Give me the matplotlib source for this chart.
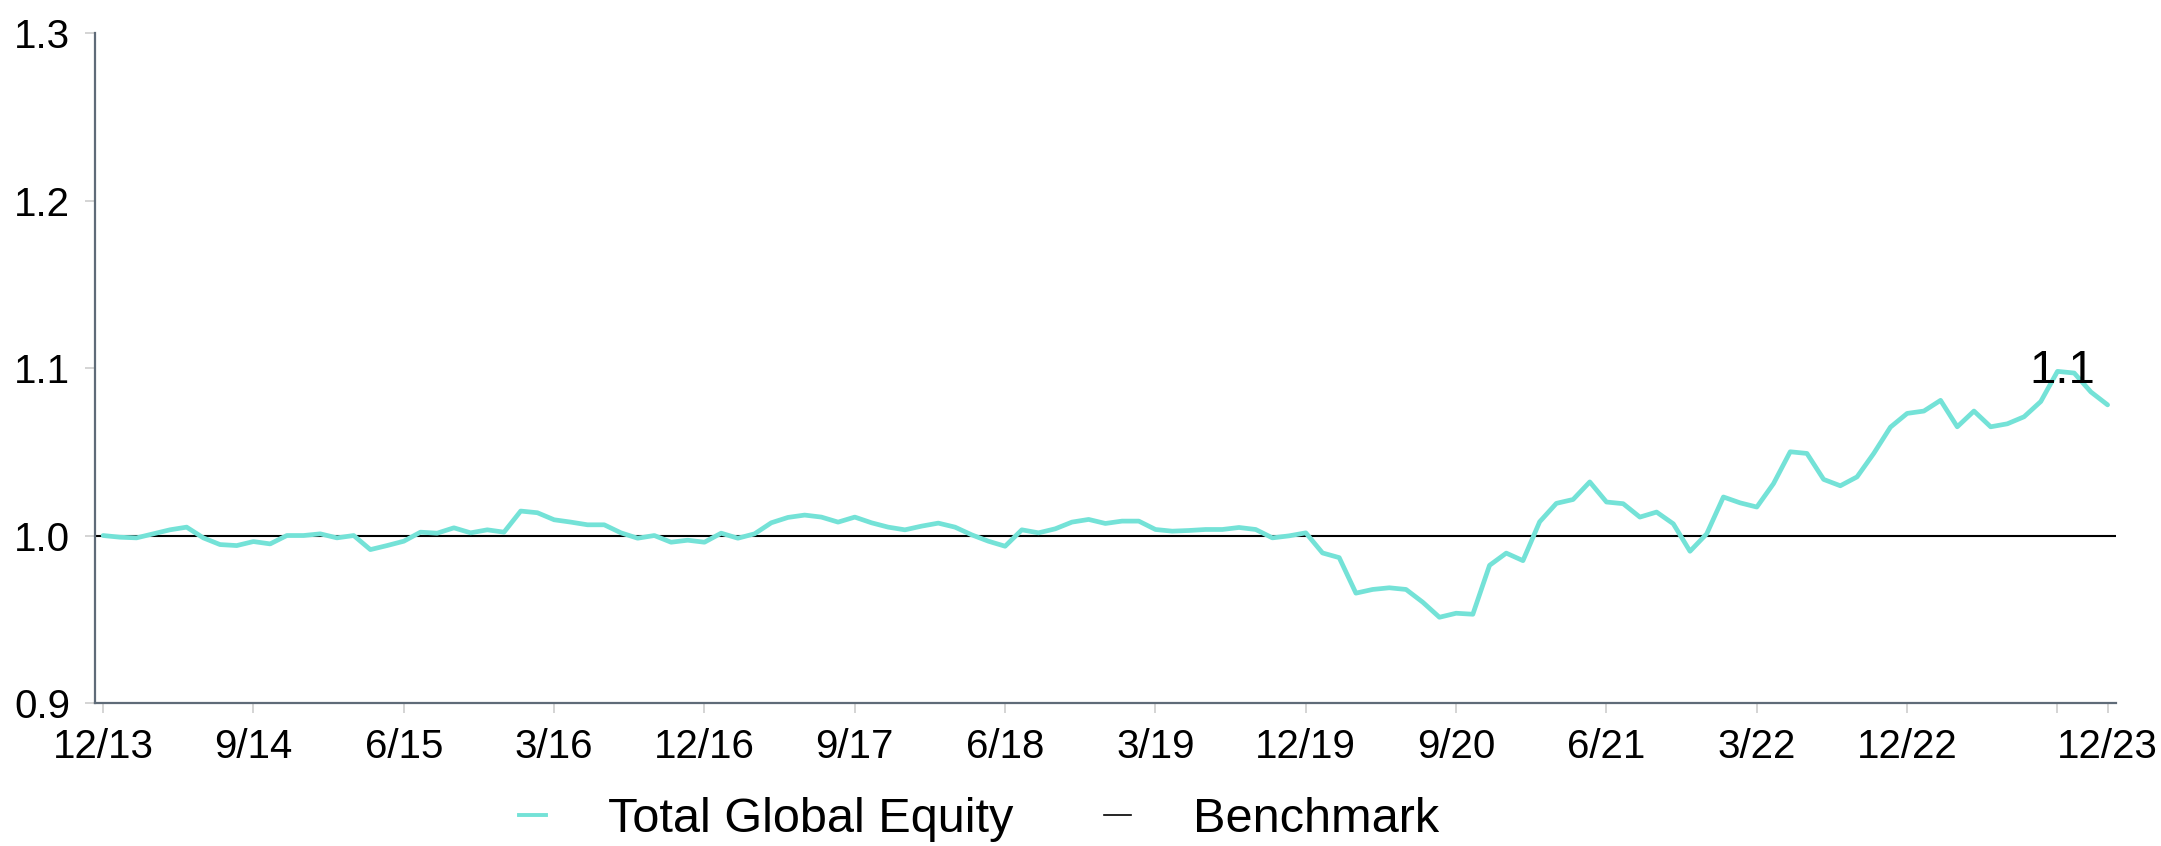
import matplotlib
matplotlib.use("Agg")
import matplotlib.pyplot as plt
from matplotlib.lines import Line2D

plt.rcParams['font.family'] = ['Liberation Sans', 'DejaVu Sans']

# valores mensuales 12/13 - 12/23
total_global_equity = [
    1.000, 0.999, 0.9986, 1.001, 1.0034, 1.005, 0.9986, 0.9946, 0.994, 0.9964,
    0.995, 1.000, 1.000, 1.001, 0.9986, 1.000, 0.9916, 0.994, 0.9966, 1.002,
    1.0014, 1.0046, 1.0016, 1.0034, 1.002, 1.0146, 1.0136, 1.0094, 1.008, 1.0064,
    1.0064, 1.0016, 0.9984, 1.000, 0.996, 0.9972, 0.996, 1.0014, 0.9984, 1.001,
    1.0076, 1.0108, 1.0122, 1.011, 1.008, 1.011, 1.0076, 1.005, 1.0034, 1.0056,
    1.0074, 1.005, 1.0004, 0.9966, 0.9936, 1.0034, 1.0016, 1.004, 1.008, 1.0096,
    1.0072, 1.0086, 1.0086, 1.0036, 1.0026, 1.003, 1.0036, 1.0036, 1.0048, 1.0036,
    0.9986, 0.9998, 1.0016, 0.9896, 0.9868, 0.9656, 0.9678, 0.9688, 0.9678, 0.9602,
    0.9512, 0.9536, 0.953, 0.9822, 0.9895, 0.985, 1.0082, 1.0192, 1.0215, 1.032,
    1.020, 1.019, 1.011, 1.014, 1.007, 0.9906, 1.001, 1.023, 1.0195, 1.017,
    1.031, 1.050, 1.049, 1.0335, 1.0297, 1.035, 1.049, 1.0647, 1.0729, 1.0743,
    1.0807, 1.0649, 1.0743, 1.0649, 1.0667, 1.0709, 1.080, 1.098, 1.097, 1.0857,
    1.078,
]
benchmark = 1.0

tick_positions = [0, 9, 18, 27, 36, 45, 54, 63, 72, 81, 90, 99, 108, 117, 120]
tick_labels = ['12/13', '9/14', '6/15', '3/16', '12/16', '9/17', '6/18', '3/19',
               '12/19', '9/20', '6/21', '3/22', '12/22', '', '12/23']
y_ticks = [0.9, 1.0, 1.1, 1.2, 1.3]

color_linea = '#74E2D7'
color_eje = '#5f6b78'
color_tick = '#d4d4d4'

fig = plt.figure(figsize=(21.61, 8.46), dpi=100)
ax = fig.add_axes([0.044, 0.169, 0.935, 0.792])

x = list(range(len(total_global_equity)))
ax.axhline(benchmark, color='black', linewidth=1.5, zorder=2)
ax.plot(x, total_global_equity, color=color_linea, linewidth=3.4,
        solid_joinstyle='round', solid_capstyle='round', zorder=3)

# etiqueta del maximo
i_max = max(x, key=lambda i: total_global_equity[i])
ax.text(i_max + 0.3, total_global_equity[i_max], '1.1', ha='center', va='center',
        fontsize=34, color='black', zorder=4)

ax.set_xlim(-0.48, 120.48)
ax.set_ylim(0.9, 1.3)
ax.set_xticks(tick_positions)
ax.set_xticklabels(tick_labels)
ax.set_yticks(y_ticks)
ax.set_yticklabels([f"{v:.1f}" for v in y_ticks])

for lado in ['top', 'right']:
    ax.spines[lado].set_visible(False)
for lado in ['left', 'bottom']:
    ax.spines[lado].set_color(color_eje)
    ax.spines[lado].set_linewidth(1.6)

ax.tick_params(axis='both', labelsize=29, colors=color_tick, labelcolor='black',
               length=7, width=1.4, pad=11)

handles = [
    Line2D([0], [0], color=color_linea, linewidth=2.8),
    Line2D([0], [0], color='black', linewidth=1.2),
]
fig.legend(handles, ['Total Global Equity', 'Benchmark'], loc='center',
           bbox_to_anchor=(0.453, 0.031), ncol=2, frameon=False, fontsize=35,
           handlelength=0.56, handletextpad=1.28, columnspacing=1.85)

fig.savefig('out.png', dpi=100)
